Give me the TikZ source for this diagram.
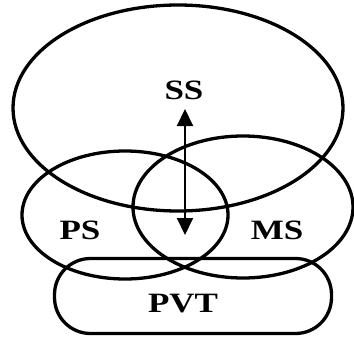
\documentclass[tikz,border=0pt]{standalone}
\usepackage{fontspec}
\setmainfont{Liberation Serif}
\newfontfamily\setlblfont[FakeStretch=1.25]{Liberation Serif}
\usetikzlibrary{shapes.geometric,arrows.meta,positioning}

\begin{document}
\begin{tikzpicture}[
  x=1pt, y=-1pt,
  set/.style={ellipse, draw=black, line width=3.3pt, inner sep=0pt},
  pvtbox/.style={rectangle, draw=black, line width=3.3pt, rounded corners=36pt,
                 inner sep=0pt},
  lbl/.style={font=\setlblfont\fontsize{28}{32}\selectfont\bfseries},
  arr/.style={{Triangle[length=17pt,width=16pt]}-{Triangle[length=17pt,width=16pt]}, line width=2pt}
]
\useasboundingbox (0,0) rectangle (354,343);
% sets
\node[set, minimum width=330pt, minimum height=206pt] (ss)  at (178,108) {};
\node[set, minimum width=206pt, minimum height=128pt] (ps)  at (125,215) {};
\node[set, minimum width=220pt, minimum height=142pt] (ms)  at (243,207) {};
\node[pvtbox, minimum width=277pt, minimum height=75pt] (pvt) at (193,296) {};
% labels
\node[lbl] (sslbl)  at (184,90)  {SS};
\node[lbl] (pslbl)  at (80,230)  {PS};
\node[lbl] (mslbl)  at (277,230) {MS};
\node[lbl] (pvtlbl) at (183,304) {PVT};
% two-way link
\coordinate (up)   at (185,109);
\coordinate (down) at (185,235);
\draw[arr] (down) -- (up);
\end{tikzpicture}
\end{document}
